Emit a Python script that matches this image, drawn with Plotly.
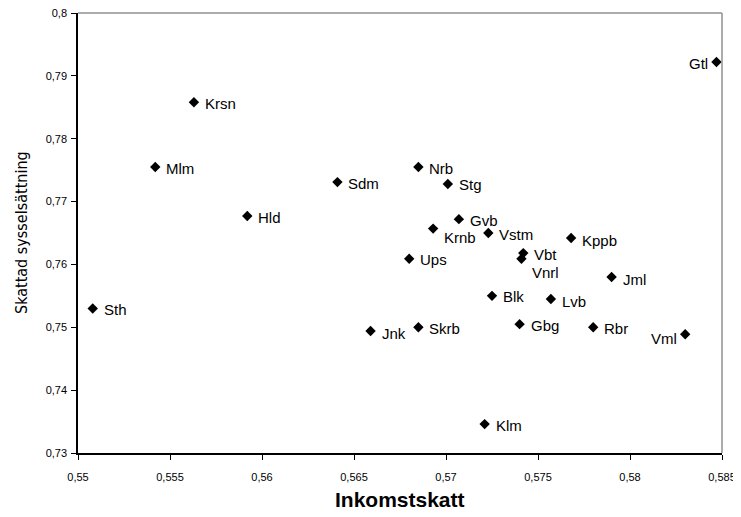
import plotly.graph_objects as go

names = ["Gtl", "Krsn", "Mlm", "Hld", "Sdm", "Nrb", "Stg", "Gvb", "Krnb", "Vstm",
         "Kppb", "Vbt", "Vnrl", "Ups", "Jml", "Blk", "Lvb", "Sth", "Jnk", "Skrb",
         "Gbg", "Rbr", "Vml", "Klm"]
inkomstskatt = [0.5847, 0.5563, 0.5542, 0.5592, 0.5641, 0.5685, 0.5701, 0.5707, 0.5693, 0.5723,
                0.5768, 0.5742, 0.5741, 0.5680, 0.5790, 0.5725, 0.5757, 0.5508, 0.5659, 0.5685,
                0.5740, 0.5780, 0.5830, 0.5721]
sysselsattning = [0.7922, 0.7858, 0.7755, 0.7677, 0.7731, 0.7755, 0.7728, 0.7672, 0.7657, 0.7650,
                  0.7642, 0.7618, 0.7609, 0.7609, 0.7580, 0.7550, 0.7545, 0.7530, 0.7494, 0.7500,
                  0.7505, 0.7500, 0.7489, 0.7346]
# label side: "r" = right of marker, "l" = left of marker; extra vertical pixel shift (down positive)
label_side = ["l", "r", "r", "r", "r", "r", "r", "r", "r", "r",
              "r", "r", "r", "r", "r", "r", "r", "r", "r", "r",
              "r", "r", "l", "r"]
label_down = [1, 1, 1, 1, 1, 1, 1, 1, 9, 1,
              2, 1, 14, 1, 2, 1, 2, 1, 2, 1,
              1, 1, 4, 1]

x_ticks = [0.55, 0.555, 0.56, 0.565, 0.57, 0.575, 0.58, 0.585]
y_ticks = [0.73, 0.74, 0.75, 0.76, 0.77, 0.78, 0.79, 0.8]

fig = go.Figure()
fig.add_trace(go.Scatter(
    x=inkomstskatt, y=sysselsattning, mode="markers",
    marker=dict(symbol="diamond", size=8, color="black"),
    cliponaxis=False, showlegend=False,
))

annotations = []
for n, xv, yv, side, dn in zip(names, inkomstskatt, sysselsattning, label_side, label_down):
    annotations.append(dict(
        x=xv, y=yv, xref="x", yref="y", text=n, showarrow=False,
        xanchor="left" if side == "r" else "right", yanchor="middle",
        xshift=9 if side == "r" else -6, yshift=-dn,
        font=dict(family="Liberation Sans, Arial", size=15, color="black"),
    ))
annotations.append(dict(
    x=0.5, y=0, xref="paper", yref="paper", text="<b>Inkomstskatt</b>", showarrow=False,
    xanchor="center", yanchor="middle", yshift=-46,
    font=dict(family="Liberation Sans, Arial", size=21, color="black"),
))
annotations.append(dict(
    x=0, y=0.5, xref="paper", yref="paper", text="Skattad sysselsättning", showarrow=False,
    xanchor="center", yanchor="middle", xshift=-57, textangle=-90,
    font=dict(family="Liberation Sans Narrow, DejaVu Sans Condensed, Arial", size=16, color="black"),
))

fig.update_layout(
    width=730, height=509,
    margin=dict(l=70, r=16, t=5, b=64),
    paper_bgcolor="white", plot_bgcolor="white",
    separators=", ",
    font=dict(family="Liberation Sans, Arial", size=11, color="black"),
    xaxis=dict(
        range=[0.55, 0.585], tickvals=x_ticks, showgrid=False, zeroline=False,
        showline=True, linecolor="black", linewidth=1.5,
        ticks="outside", ticklen=5, tickcolor="black", automargin=False,
        tickfont=dict(size=11), ticklabelstandoff=8, ticklabeloverflow="allow",
    ),
    yaxis=dict(
        range=[0.73, 0.8], tickvals=y_ticks, showgrid=False, zeroline=False,
        showline=True, linecolor="black", linewidth=1.5,
        ticks="outside", ticklen=5, tickcolor="black", automargin=False,
        tickfont=dict(size=11), ticklabelstandoff=2, ticklabeloverflow="allow",
    ),
    annotations=annotations,
    shapes=[
        dict(type="line", xref="paper", yref="paper", x0=0, x1=1, y0=1, y1=1,
             line=dict(color="#909090", width=1.5)),
        dict(type="line", xref="paper", yref="paper", x0=1, x1=1, y0=0, y1=1,
             line=dict(color="#909090", width=1.5)),
    ],
)

fig.write_html("out.html")
